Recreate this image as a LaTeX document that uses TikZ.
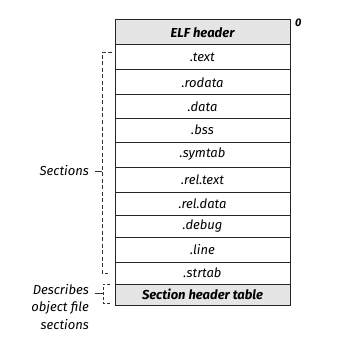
\documentclass[tikz,border=0pt]{standalone}
\usepackage{fontspec}
\setmainfont{Fira Sans}
\begin{document}
\begin{tikzpicture}[x=1pt,y=-1pt,
  rowbox/.style={draw=black!85, line width=1pt, minimum width=175pt, inner sep=0pt, font=\itshape\fontsize{13}{14}\selectfont},
  hdrbox/.style={rowbox, fill=black!10, font=\itshape\bfseries\fontsize{13}{14}\selectfont},
  brk/.style={draw=black!80, line width=0.8pt, dash pattern=on 4pt off 2.5pt},
  lbl/.style={font=\itshape\fontsize{13}{14}\selectfont, inner sep=0pt}]
\useasboundingbox (0,0) rectangle (359,353);
\node[hdrbox, minimum height=25pt] (elf) at (202.5,32.5) {ELF header};
\node[rowbox, minimum height=25pt] (text) at (202.5,57.5) {.text};
\node[rowbox, minimum height=25pt] (rodata) at (202.5,82.5) {.rodata};
\node[rowbox, minimum height=23pt] (data) at (202.5,106.5) {.data};
\node[rowbox, minimum height=24pt] (bss) at (202.5,130) {.bss};
\node[rowbox, minimum height=25pt] (symtab) at (202.5,154.5) {.symtab};
\node[rowbox, minimum height=25pt] (reltext) at (202.5,179.5) {.rel.text};
\node[rowbox, minimum height=23pt] (reldata) at (202.5,203.5) {.rel.data};
\node[rowbox, minimum height=22pt] (debug) at (202.5,226) {.debug};
\node[rowbox, minimum height=25pt] (line) at (202.5,249.5) {.line};
\node[rowbox, minimum height=22pt] (strtab) at (202.5,273) {.strtab};
\node[hdrbox, minimum height=21pt] (sht) at (202.5,294.5) {Section header table};
\node[lbl, font=\itshape\bfseries\fontsize{11}{12}\selectfont, anchor=south west] (zero) at (295,27) {0};
% Sections bracket
\coordinate (s1) at (112,52);
\coordinate (s2) at (102,52);
\coordinate (s3) at (102,273);
\coordinate (s4) at (108,273);
\coordinate (sm) at (102,171);
\coordinate (st) at (95,171);
\draw[brk] (s1) -- (s2) -- (s3) -- (s4);
\draw[draw=black!80, line width=0.8pt] (sm) -- (st);
\node[lbl, anchor=east] (seclbl) at (89,171) {Sections};
% Describes bracket
\coordinate (d1) at (110,284);
\coordinate (d2) at (103,284);
\coordinate (d3) at (103,303);
\coordinate (d4) at (110,303);
\coordinate (dm) at (103,293);
\coordinate (dt) at (95,293);
\draw[brk, dash pattern=on 3pt off 2pt] (d1) -- (d2) -- (d3) -- (d4);
\draw[draw=black!80, line width=0.8pt] (dm) -- (dt);
\node[lbl, anchor=north east, align=right, font=\itshape\fontsize{13}{17.5}\selectfont] (desc) at (89,284) {Describes\\object file\\sections};
\end{tikzpicture}
\end{document}
